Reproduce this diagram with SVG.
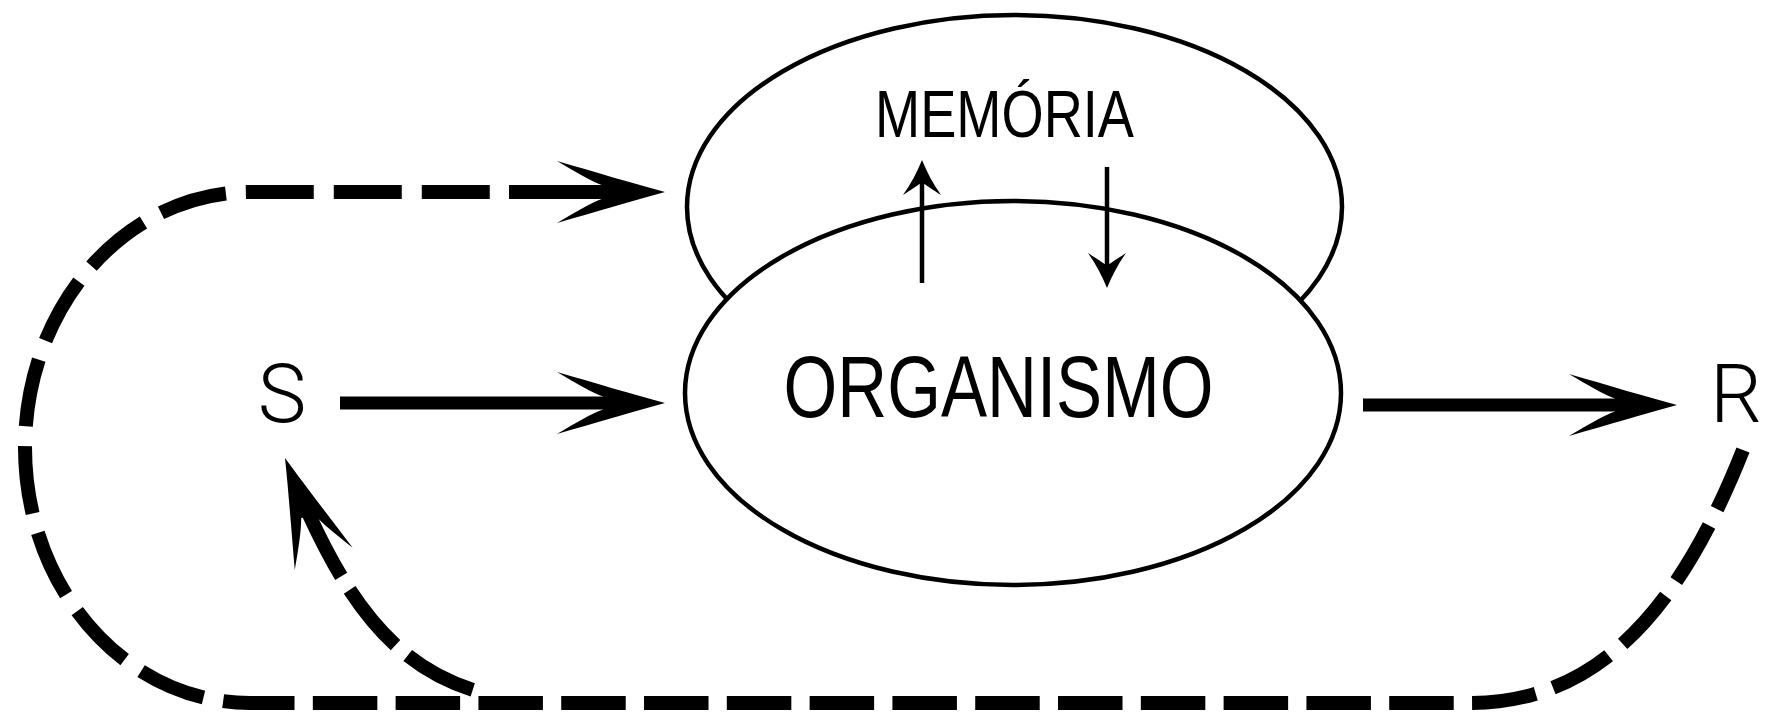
<svg xmlns="http://www.w3.org/2000/svg" xmlns:xlink="http://www.w3.org/1999/xlink" width="1767" height="721" viewBox="0 0 1767 721">
<defs>
<style>
.ell{fill:#fff;stroke:#000;stroke-width:4.5}
.lbl{font-family:"Liberation Sans Narrow","Liberation Sans",Arial,sans-serif;fill:#000}
.sr{font-family:Roboto,"Liberation Sans",Arial,sans-serif;font-weight:300;fill:#000;font-size:82px;text-anchor:middle}
.shaft{stroke:#000;stroke-width:13;fill:none}
.dash{stroke:#000;stroke-width:14;fill:none;stroke-linecap:butt}
.thin{stroke:#000;stroke-width:4.5;fill:none}
</style>
<path id="ah" d="M0,0 C-30,-8 -70,-20 -108,-31 C-88,-19 -74,-11 -62,-6.5 L-62,6.5 C-74,11 -88,19 -108,31 C-70,20 -30,8 0,0 Z" fill="#000"/>
<path id="sh" d="M0,0 C-5,12 -11,24 -19,35 C-10,29 -5,26 -2.5,24 L2.5,24 C5,26 10,29 19,35 C11,24 5,12 0,0 Z" fill="#000"/>
</defs>
<rect width="1767" height="721" fill="#fff"/>

<g id="memoria">
<ellipse class="ell" cx="1014.5" cy="207" rx="327.5" ry="192"/>
<text class="lbl" x="1004.5" y="137" font-size="66" text-anchor="middle" textLength="259" lengthAdjust="spacingAndGlyphs">MEMÓRIA</text>
</g>

<g id="organismo">
<ellipse class="ell" cx="1013" cy="393" rx="328" ry="192"/>
<text class="lbl" x="998.5" y="417" font-size="87" text-anchor="middle" textLength="430" lengthAdjust="spacingAndGlyphs">ORGANISMO</text>
</g>

<g id="S"><text class="sr" x="282" y="422">S</text></g>
<g id="R"><text class="sr" x="1736" y="422">R</text></g>

<g id="connectors">
<!-- memory exchange arrows -->
<line class="thin" x1="922" y1="283" x2="922" y2="182"/>
<use xlink:href="#sh" transform="translate(922,160)"/>
<line class="thin" x1="1107" y1="167" x2="1107" y2="266"/>
<use xlink:href="#sh" transform="translate(1107,288) rotate(180)"/>

<!-- S to ORGANISMO -->
<line class="shaft" x1="340" y1="403" x2="606" y2="403"/>
<use xlink:href="#ah" transform="translate(665,403)"/>

<!-- ORGANISMO to R -->
<line class="shaft" x1="1363" y1="405" x2="1618" y2="405"/>
<use xlink:href="#ah" transform="translate(1677,405)"/>

<!-- feedback loop R -> MEMORIA -->
<path class="dash" stroke-dasharray="64.5 18.3" d="M1743,450 C1687.5,589.5 1610,703 1470,703 L250,703"/>
<path class="dash" stroke-dasharray="68 20" stroke-dashoffset="41" d="M250,703 A225 255.5 0 0 1 250,192 L509,192"/>
<line x1="509" y1="192" x2="606" y2="192" stroke="#000" stroke-width="14"/>
<use xlink:href="#ah" transform="translate(665,192)"/>

<!-- feedback branch to S -->
<path class="dash" stroke-dasharray="0 60 71 16 72 16 74 400" d="M285,458 C355,635 420,703 570,703"/>
<use xlink:href="#ah" transform="translate(285,458) rotate(-111)"/>
</g>
</svg>
